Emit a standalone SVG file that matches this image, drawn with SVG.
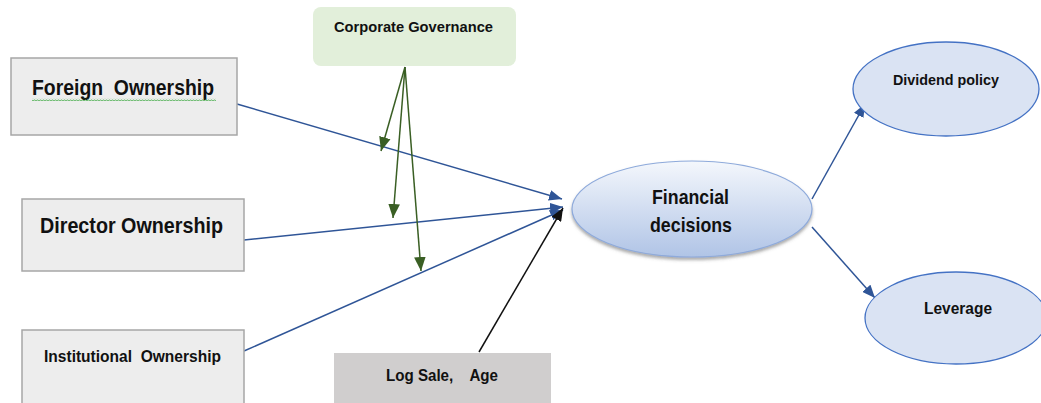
<svg xmlns="http://www.w3.org/2000/svg" width="1041" height="403" viewBox="0 0 1041 403">
  <defs>
    <style>
      .box { fill: #ededed; stroke: #a6a6a6; stroke-width: 1.5; }
      .lbl { font-family: "Liberation Sans", Arial, sans-serif; font-weight: bold; fill: #111111; }
      .outcome { fill: #dae3f3; stroke: #4472c4; stroke-width: 1.3; }
      .blue { stroke: #2f5597; stroke-width: 1.5; fill: none; marker-end: url(#ahBlue); }
      .green { stroke: #3a5f24; stroke-width: 1.5; fill: none; marker-end: url(#ahGreen); }
      .black { stroke: #111111; stroke-width: 1.5; fill: none; marker-end: url(#ahBlack); }
    </style>
    <marker id="ahBlue" viewBox="0 0 12 10" refX="12" refY="5" markerWidth="13" markerHeight="11" markerUnits="userSpaceOnUse" orient="auto">
      <path d="M0,0 L12,5 L0,10 z" fill="#2f5597"/>
    </marker>
    <marker id="ahGreen" viewBox="0 0 12 10" refX="12" refY="5" markerWidth="14" markerHeight="12" markerUnits="userSpaceOnUse" orient="auto">
      <path d="M0,0 L12,5 L0,10 z" fill="#3a5f24"/>
    </marker>
    <marker id="ahBlack" viewBox="0 0 12 10" refX="12" refY="5" markerWidth="13" markerHeight="11" markerUnits="userSpaceOnUse" orient="auto">
      <path d="M0,0 L12,5 L0,10 z" fill="#111111"/>
    </marker>
    <linearGradient id="gradFin" x1="0" y1="0" x2="0" y2="1">
      <stop offset="0" stop-color="#f4f7fc"/>
      <stop offset="1" stop-color="#b0c4e6"/>
    </linearGradient>
    <filter id="shadow" x="-10%" y="-10%" width="120%" height="130%">
      <feDropShadow dx="0" dy="2.5" stdDeviation="1.8" flood-color="#555555" flood-opacity="0.5"/>
    </filter>
    <!-- squiggly spell-check underline -->
    <pattern id="squiggle" x="0" y="0" width="3" height="3" patternUnits="userSpaceOnUse">
      <polyline points="0,2.3 1.5,0.7 3,2.3" fill="none" stroke="#4caf50" stroke-width="1"/>
    </pattern>
  </defs>

  <!-- connectors -->
  <g id="connectors">
    <line class="blue" x1="237" y1="104" x2="562" y2="199"/>
    <line class="blue" x1="244" y1="240" x2="563" y2="207"/>
    <line class="blue" x1="244" y1="351" x2="563" y2="210"/>
    <line class="black" x1="479" y1="352" x2="563" y2="208"/>
    <line class="green" x1="405" y1="67" x2="381" y2="151"/>
    <line class="green" x1="405" y1="67" x2="393" y2="218"/>
    <line class="green" x1="405" y1="67" x2="421" y2="271"/>
    <line class="blue" x1="812" y1="199" x2="865" y2="104"/>
    <line class="blue" x1="812" y1="227" x2="875" y2="298"/>
  </g>

  <g id="corporate-governance">
    <rect x="313" y="7" width="203" height="59" rx="8" ry="8" fill="#e2efda"/>
    <text class="lbl" x="334" y="32" font-size="15.5" textLength="159" lengthAdjust="spacingAndGlyphs">Corporate Governance</text>
  </g>

  <g id="foreign-ownership">
    <rect class="box" x="11" y="58" width="226" height="77"/>
    <text class="lbl" x="32" y="95" font-size="22" textLength="182" lengthAdjust="spacingAndGlyphs" xml:space="preserve">Foreign  Ownership</text>
    <rect x="32" y="98" width="184" height="3" fill="url(#squiggle)"/>
  </g>

  <g id="director-ownership">
    <rect class="box" x="22" y="199" width="222" height="72"/>
    <text class="lbl" x="40" y="233" font-size="22" textLength="183" lengthAdjust="spacingAndGlyphs">Director Ownership</text>
  </g>

  <g id="institutional-ownership">
    <rect class="box" x="22" y="330" width="222" height="80"/>
    <text class="lbl" x="44" y="362" font-size="17" textLength="177" lengthAdjust="spacingAndGlyphs" xml:space="preserve">Institutional  Ownership</text>
  </g>

  <g id="controls">
    <rect x="334" y="353" width="217" height="55" fill="#d0cece"/>
    <text class="lbl" x="386" y="381" font-size="17" textLength="112" lengthAdjust="spacingAndGlyphs" xml:space="preserve">Log Sale,    Age</text>
  </g>

  <g id="financial-decisions">
    <ellipse cx="692" cy="209" rx="120" ry="48" fill="url(#gradFin)" stroke="#8eaadb" stroke-width="1.2" filter="url(#shadow)"/>
    <text class="lbl" x="652" y="204" font-size="21" textLength="77" lengthAdjust="spacingAndGlyphs">Financial</text>
    <text class="lbl" x="650" y="232" font-size="21" textLength="82" lengthAdjust="spacingAndGlyphs">decisions</text>
  </g>

  <g id="dividend-policy">
    <ellipse class="outcome" cx="946" cy="89" rx="93" ry="47"/>
    <text class="lbl" x="893" y="85" font-size="15.5" textLength="106" lengthAdjust="spacingAndGlyphs">Dividend policy</text>
  </g>

  <g id="leverage">
    <ellipse class="outcome" cx="956" cy="318" rx="91" ry="46"/>
    <text class="lbl" x="924" y="314" font-size="17" textLength="68" lengthAdjust="spacingAndGlyphs">Leverage</text>
  </g>
</svg>
